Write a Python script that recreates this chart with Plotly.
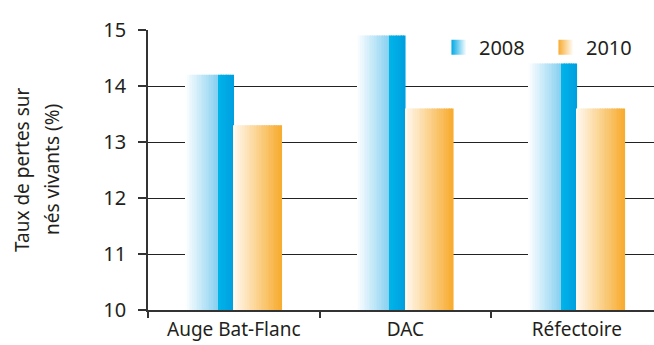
import plotly.graph_objects as go

categories = ["Auge Bat-Flanc", "DAC", "Réfectoire"]
series_names = ["2008", "2010"]
values_2008 = [14.2, 14.9, 14.4]
values_2010 = [13.3, 13.6, 13.6]
y_ticks = [10, 11, 12, 13, 14, 15]

FONT = "Noto Sans"
TXT = "#231f20"

def hex2rgb(h):
    h = h.lstrip("#")
    return tuple(int(h[i:i+2], 16) for i in (0, 2, 4))

def mix(a, b, t):
    a, b = hex2rgb(a), hex2rgb(b)
    return "rgb(%d,%d,%d)" % tuple(round(a[i] + (b[i] - a[i]) * t) for i in range(3))

def blue(t):
    if t < 0.68:
        return mix("#ffffff", "#86d0f0", t / 0.68)
    return mix("#00b4ea", "#009fdf", (t - 0.68) / 0.32)

def orange(t):
    return mix("#fffaf2", "#f7ab2e", t)

N = 28
BW = 0.28
fig = go.Figure()
for vals, start, cfun in [(values_2008, -BW, blue), (values_2010, 0.0, orange)]:
    for k in range(N):
        t = (k + 0.5) / N
        fig.add_trace(go.Bar(
            x=categories, y=vals, width=BW / N * 1.15, offset=start + k * BW / N,
            marker=dict(color=cfun(t), line=dict(width=0)),
            showlegend=False, hoverinfo="skip"))

# legend entries with gradient swatches
for name, c0, c1 in [("2008", "#ffffff", "#00a8e4"), ("2010", "#ffffff", "#f7ab2e")]:
    fig.add_trace(go.Scatter(
        x=[None], y=[None], mode="markers", name=name,
        marker=dict(symbol="square", size=15, color=c1,
                    gradient=dict(type="horizontal", color=c0),
                    line=dict(width=0))))

fig.update_layout(
    width=654, height=345,
    margin=dict(l=148, r=0, t=30, b=35, autoexpand=False),
    paper_bgcolor="white", plot_bgcolor="white",
    barmode="overlay",
    font=dict(family=FONT, size=20, color=TXT),
    showlegend=True,
    legend=dict(orientation="h", x=0.575, y=1.008, xanchor="left", yanchor="top",
                bgcolor="rgba(0,0,0,0)", font=dict(size=20, color=TXT),
                entrywidth=62, entrywidthmode="pixels", itemsizing="trace"),
    xaxis=dict(range=[-0.5, 2.45], showgrid=False, showline=True, linecolor="#333",
               linewidth=1.5, ticks="outside", tickson="boundaries", ticklen=6,
               tickcolor="#333", tickwidth=1.5, ticklabelstandoff=1, tickangle=0,
               automargin=False, tickfont=dict(size=19, color=TXT)),
    yaxis=dict(range=[10, 15], tickvals=y_ticks, showgrid=True, gridcolor="#222",
               gridwidth=1.3, showline=True, linecolor="#333", linewidth=1.5,
               ticks="outside", ticklen=8, tickcolor="#333", tickwidth=1.5,
               ticklabelstandoff=8, zeroline=False, automargin=False,
               tickfont=dict(size=20, color=TXT)),
)

fig.add_annotation(text="Taux de pertes sur", xref="paper", yref="paper",
                   x=0, y=0.5, xanchor="center", yanchor="middle",
                   xshift=-126, textangle=-90, showarrow=False,
                   font=dict(size=19, color=TXT))
fig.add_annotation(text="nés vivants (%)", xref="paper", yref="paper",
                   x=0, y=0.5, xanchor="center", yanchor="middle",
                   xshift=-96, textangle=-90, showarrow=False,
                   font=dict(size=19, color=TXT))

fig.write_html("out.html")
